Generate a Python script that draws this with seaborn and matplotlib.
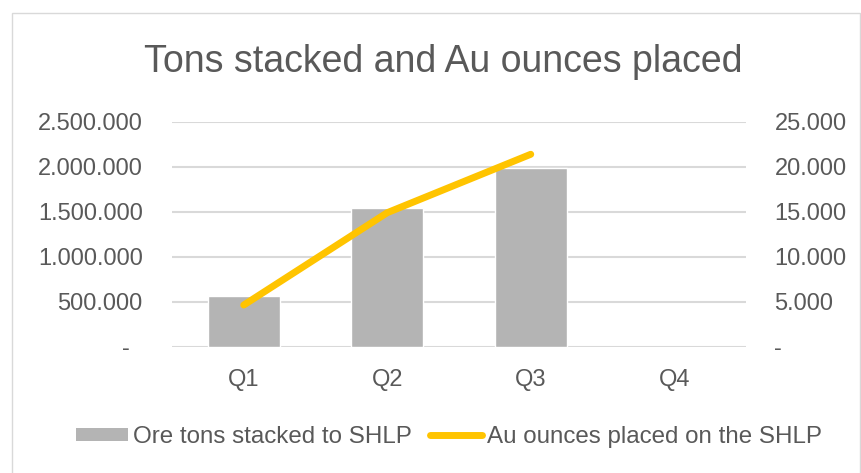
import numpy as np
import pandas as pd
import matplotlib
matplotlib.use('Agg')
import matplotlib.pyplot as plt
from matplotlib.ticker import FuncFormatter
from matplotlib.patches import Patch, Rectangle
from matplotlib.lines import Line2D
import seaborn as sns

quarters = ['Q1', 'Q2', 'Q3', 'Q4']
ore_tons = [563000, 1538000, 1986000, np.nan]  # Q4 no data yet
au_ounces = [4630, 14890, 21380]  # only Q1-Q3

bar_color = '#b4b4b4'
line_color = '#ffc400'
text_color = '#595959'
grid_color = '#d9d9d9'

sns.set_style('white')
plt.rcParams['font.family'] = ['Liberation Sans', 'DejaVu Sans']

def dot_fmt(v, pos, zero='-'):
    # thousands with dots, zero shown as dash (excel accounting style)
    if abs(v) < 1e-9:
        return zero
    return f'{v:,.0f}'.replace(',', '.')

df = pd.DataFrame({'quarter': quarters, 'tons': ore_tons})

fig = plt.figure(figsize=(8.61, 4.73), dpi=100)
ax = fig.add_axes([172 / 861, 1 - 346.7 / 473, 574 / 861, 225 / 473])

sns.barplot(data=df, x='quarter', y='tons', order=quarters, color=bar_color,
            width=0.5, saturation=1, ax=ax)
ax.set_ylim(0, 2500000)
ax.set_yticks(np.arange(0, 2500001, 500000))
ax.yaxis.set_major_formatter(FuncFormatter(lambda v, p: dot_fmt(v, p, '-  ')))
ax.grid(axis='y', color=grid_color, lw=1.5)
ax.set_axisbelow(True)
ax.set_xlabel('')
ax.set_ylabel('')
ax.tick_params(axis='y', length=0, pad=21, labelsize=17, labelcolor=text_color)
ax.tick_params(axis='x', length=0, pad=16, labelsize=17, labelcolor=text_color)
for s in ax.spines.values():
    s.set_visible(False)

ax2 = ax.twinx()
sns.lineplot(x=np.arange(len(au_ounces)), y=au_ounces, color=line_color, lw=5,
             solid_capstyle='round', ax=ax2)
ax2.set_ylim(0, 25000)
ax2.set_yticks(np.arange(0, 25001, 5000))
ax2.yaxis.set_major_formatter(FuncFormatter(dot_fmt))
ax2.tick_params(axis='y', length=0, pad=20.5, labelsize=17, labelcolor=text_color)
for s in ax2.spines.values():
    s.set_visible(False)
ax.set_xlim(-0.5, len(quarters) - 0.5)

fig.text(443 / 861, 1 - 62 / 473, 'Tons stacked and Au ounces placed',
         ha='center', va='center', fontsize=27, color=text_color)

handles = [Patch(facecolor=bar_color, edgecolor='none'),
           Line2D([0], [0], color=line_color, lw=5, solid_capstyle='round')]
labels = ['Ore tons stacked to SHLP', 'Au ounces placed on the SHLP']
leg = fig.legend(handles, labels, loc='center', bbox_to_anchor=(449 / 861, 1 - 437 / 473),
                 ncol=2, frameon=False, fontsize=17.4, handlelength=2.15,
                 handletextpad=0.2, columnspacing=0.75, handleheight=0.5)
for t in leg.get_texts():
    t.set_color(text_color)

# light border around the chart area
fig.patches.append(Rectangle((12 / 861, -0.01), 848 / 861, 1 - 13 / 473 + 0.01,
                             transform=fig.transFigure, fill=False,
                             edgecolor=grid_color, lw=1))

fig.savefig('out.png', dpi=100)
